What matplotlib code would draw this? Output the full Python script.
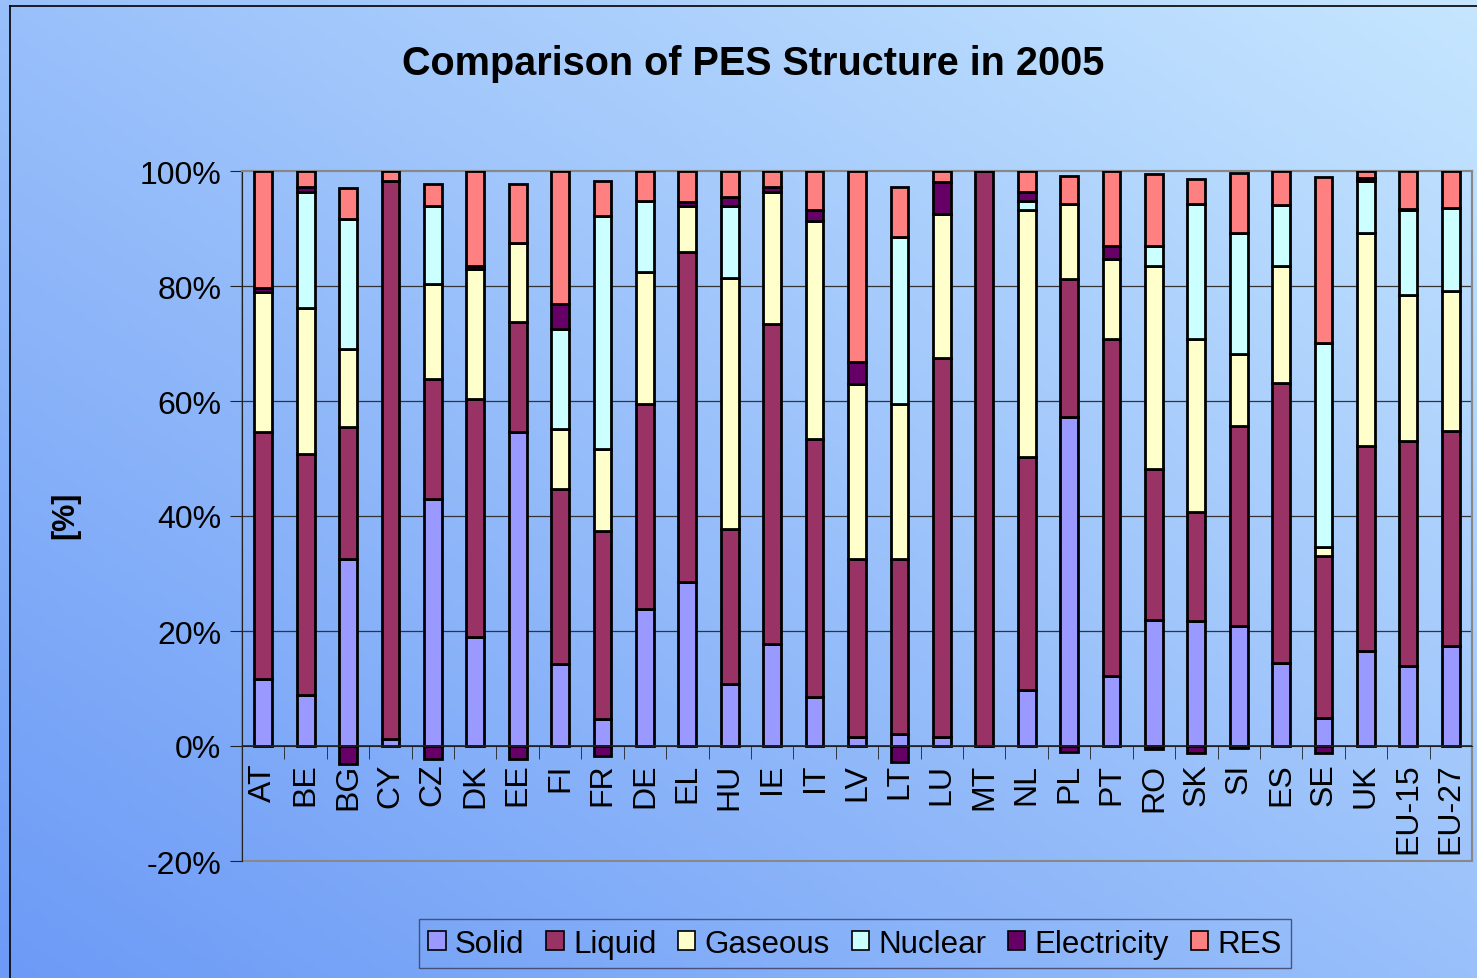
import numpy as np
import matplotlib
matplotlib.use('Agg')
from matplotlib import pyplot
from matplotlib.patches import Rectangle
from matplotlib.lines import Line2D

countries = ['AT', 'BE', 'BG', 'CY', 'CZ', 'DK', 'EE', 'FI', 'FR', 'DE', 'EL', 'HU', 'IE', 'IT', 'LV',
             'LT', 'LU', 'MT', 'NL', 'PL', 'PT', 'RO', 'SK', 'SI', 'ES', 'SE', 'UK', 'EU-15', 'EU-27']

# shares of primary energy supply, %
solid = [11.6, 8.9, 32.6, 1.2, 43.0, 19.0, 54.6, 14.2, 4.7, 23.8, 28.6, 10.7, 17.8, 8.6, 1.6,
         2.1, 1.6, 0.0, 9.8, 57.3, 12.1, 22.0, 21.7, 20.8, 14.4, 4.8, 16.5, 14.0, 17.4]
liquid = [43.0, 41.9, 22.9, 97.0, 20.8, 41.4, 19.2, 30.5, 32.7, 35.7, 57.3, 27.0, 55.6, 44.8, 31.0,
          30.5, 65.8, 100.0, 40.5, 24.0, 58.7, 26.1, 19.0, 34.8, 48.7, 28.2, 35.7, 39.0, 37.4]
gaseous = [24.4, 25.3, 13.5, 0.0, 16.5, 22.6, 13.6, 10.4, 14.2, 23.0, 8.0, 43.7, 23.0, 37.9, 30.3,
           26.9, 25.2, 0.0, 43.0, 13.0, 13.9, 35.3, 30.1, 12.6, 20.4, 1.6, 37.0, 25.4, 24.4]
nuclear = [0.0, 20.3, 22.6, 0.0, 13.6, 0.0, 0.0, 17.5, 40.5, 12.2, 0.0, 12.5, 0.0, 0.0, 0.0,
           29.1, 0.0, 0.0, 1.5, 0.0, 0.0, 3.5, 23.5, 21.0, 10.6, 35.5, 9.0, 14.8, 14.4]
electricity = [0.6, 0.8, -3.1, 0.0, -2.2, 0.5, -2.2, 4.3, -1.7, 0.0, 0.7, 1.6, 0.8, 2.0, 3.9,
               -2.7, 5.5, 0.0, 1.6, -1.0, 2.2, -0.5, -1.3, -0.4, 0.0, -1.2, 0.5, 0.2, 0.0]
res = [20.4, 2.8, 5.4, 1.8, 3.8, 16.5, 10.3, 23.1, 6.1, 5.3, 5.4, 4.5, 2.8, 6.7, 33.2,
       8.6, 1.9, 0.0, 3.6, 4.8, 13.1, 12.5, 4.3, 10.4, 5.9, 28.8, 1.3, 6.6, 6.4]

series = [('Solid', solid, '#9999ff'),
          ('Liquid', liquid, '#993366'),
          ('Gaseous', gaseous, '#ffffcc'),
          ('Nuclear', nuclear, '#ccffff'),
          ('Electricity', electricity, '#660066'),
          ('RES', res, '#ff8080')]

pyplot.rcParams['font.family'] = ['Liberation Sans', 'DejaVu Sans']

fig = pyplot.figure(figsize=(14.77, 9.79), dpi=100)

# background gradient, dark lower-left to light upper-right
bg = fig.add_axes([0, 0, 1, 1], zorder=-10)
bg.set_axis_off()
c_bl = np.array([0x6c, 0x9a, 0xf6]) / 255
c_tr = np.array([0xc6, 0xe6, 0xff]) / 255
gx, gy = np.meshgrid(np.linspace(0, 1, 300), np.linspace(0, 1, 200))
t = ((gx + gy) / 2)[..., None]
img = c_bl * (1 - t) + c_tr * t
bg.imshow(img, origin='lower', extent=[0, 1, 0, 1], aspect='auto')
bg.set_xlim(0, 1)
bg.set_ylim(0, 1)
bg.add_line(Line2D([10 / 1477, 10 / 1477], [0, 1 - 7 / 979], color='black', lw=1.2))
bg.add_line(Line2D([10 / 1477, 1], [1 - 7 / 979, 1 - 7 / 979], color='black', lw=1.2))

ax = fig.add_axes([242 / 1477, 1 - 862 / 979, (1472 - 242) / 1477, (862 - 172) / 979])
ax.patch.set_alpha(0)

x = np.arange(len(countries))
pos_base = np.zeros(len(countries))
neg_base = np.zeros(len(countries))
for name, vals, color in series:
    v = np.array(vals)
    bottom = np.where(v >= 0, pos_base, neg_base)
    ax.bar(x, v, width=0.42, bottom=bottom, color=color, edgecolor='black',
           linewidth=2.0, label=name, zorder=3)
    pos_base = pos_base + np.clip(v, 0, None)
    neg_base = neg_base + np.clip(v, None, 0)

ax.set_xlim(-0.5, len(countries) - 0.5)
ax.set_ylim(-20, 100)
ax.set_yticks(range(-20, 101, 20))
ax.set_yticklabels(['{}%'.format(v) for v in range(-20, 101, 20)], fontsize=23)
for g in [20, 40, 60, 80]:
    ax.axhline(g, color='#333333', lw=0.9, zorder=1)

ax.spines['bottom'].set_position(('data', 0))
ax.spines['bottom'].set_color('#222222')
ax.spines['left'].set_color('#222222')
ax.spines['top'].set_color('#888888')
ax.spines['right'].set_color('#888888')
for s in ['top', 'right']:
    ax.spines[s].set_linewidth(1.5)
ax.add_patch(Rectangle((0, 0), 1, 1, transform=ax.transAxes, fill=False,
                       edgecolor='#888888', lw=1.5, zorder=0, clip_on=False))
ax.add_line(Line2D([0, 1], [1 / 6, 1 / 6], transform=ax.transAxes, color='#222222', lw=1.2, zorder=4))

ax.set_xticks(x)
ax.set_xticklabels(countries, rotation=90, fontsize=23)
ax.tick_params(axis='x', which='major', length=0, pad=12)
ax.set_xticks(np.arange(0.5, len(countries) - 0.5, 1), minor=True)
ax.tick_params(axis='x', which='minor', length=9, direction='out', color='#222222')
ax.tick_params(axis='y', length=9, direction='out', color='#222222', pad=6)

fig.text(0.51, 0.935, 'Comparison of PES Structure in 2005', ha='center', va='center',
         fontsize=28.5, fontweight='bold')
fig.text(0.044, 0.474, '[%]', ha='center', va='center', rotation=90,
         fontsize=22, fontweight='bold')

leg = fig.legend(loc='center', bbox_to_anchor=(0.579, 0.035), ncol=6, fontsize=22.5,
                 frameon=True, fancybox=False, handlelength=0.55, handleheight=0.55,
                 handletextpad=0.3, columnspacing=0.7, borderpad=0.3)
leg.get_frame().set_facecolor('none')
leg.get_frame().set_edgecolor('#3a3a5a')
leg.get_frame().set_linewidth(1.0)
for h in leg.legend_handles:
    h.set_linewidth(1.2)

fig.savefig('out.png', dpi=100)
